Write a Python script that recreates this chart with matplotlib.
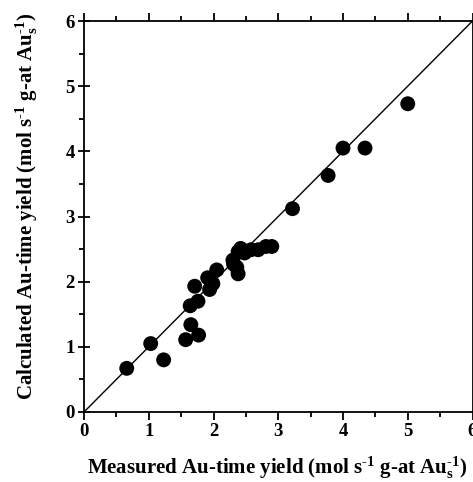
import matplotlib
matplotlib.use('Agg')
import matplotlib.pyplot as plt
from matplotlib.ticker import MultipleLocator

# measured vs calculated Au-time yield
medido = [0.66, 1.03, 1.23, 1.57, 1.65, 1.64, 1.71, 1.76, 1.77, 1.91, 1.94, 1.99, 2.05,
          2.30, 2.31, 2.36, 2.38, 2.38, 2.42, 2.48, 2.58, 2.69, 2.81, 2.90,
          3.22, 3.77, 4.00, 4.34, 5.00]
calculado = [0.67, 1.05, 0.80, 1.11, 1.34, 1.63, 1.93, 1.70, 1.18, 2.06, 1.88, 1.97, 2.18,
             2.33, 2.27, 2.22, 2.12, 2.46, 2.51, 2.44, 2.49, 2.49, 2.54, 2.54,
             3.12, 3.63, 4.05, 4.05, 4.73]
paridade = [0, 6]

plt.rcParams['font.family'] = 'Liberation Serif'
plt.rcParams['font.weight'] = 'bold'
plt.rcParams['mathtext.fontset'] = 'custom'
plt.rcParams['mathtext.rm'] = 'Liberation Serif:bold'
plt.rcParams['mathtext.bf'] = 'Liberation Serif:bold'
plt.rcParams['mathtext.default'] = 'regular'

fig = plt.figure(figsize=(4.73, 4.82), dpi=100)
ax = fig.add_axes([84 / 473, 1 - 412 / 482, 388.5 / 473, 391 / 482])

ax.plot(paridade, paridade, color='black', linewidth=1.0)
ax.scatter(medido, calculado, s=115, color='black', edgecolors='none', zorder=3)

ax.set_xlim(0, 6)
ax.set_ylim(0, 6)
ax.xaxis.set_major_locator(MultipleLocator(1))
ax.xaxis.set_minor_locator(MultipleLocator(0.5))
ax.yaxis.set_major_locator(MultipleLocator(1))
ax.yaxis.set_minor_locator(MultipleLocator(0.5))
ax.tick_params(axis='x', which='major', direction='out', length=6, width=1.3,
               labelsize=13.5, pad=2, top=True)
ax.tick_params(axis='x', which='minor', direction='out', length=3.5, width=1.3, top=True)
ax.tick_params(axis='y', which='major', direction='inout', length=9, width=1.3,
               labelsize=13.5, pad=2)
ax.tick_params(axis='y', which='minor', direction='out', length=3.5, width=1.3)
for s in ax.spines.values():
    s.set_linewidth(1.3)

ax.set_xlabel(r'Measured Au-time yield (mol s$^{\text{-1}}$ g-at Au$_{s}^{\text{-1}}$)',
              fontsize=15, fontweight='bold')
ax.set_ylabel(r'Calculated Au-time yield (mol s$^{\text{-1}}$ g-at Au$_{s}^{\text{-1}}$)',
              fontsize=15, fontweight='bold')
ax.xaxis.set_label_coords(0.497, -0.11)
ax.yaxis.set_label_coords(-0.112, 0.525)

fig.savefig('out.png', dpi=100)
